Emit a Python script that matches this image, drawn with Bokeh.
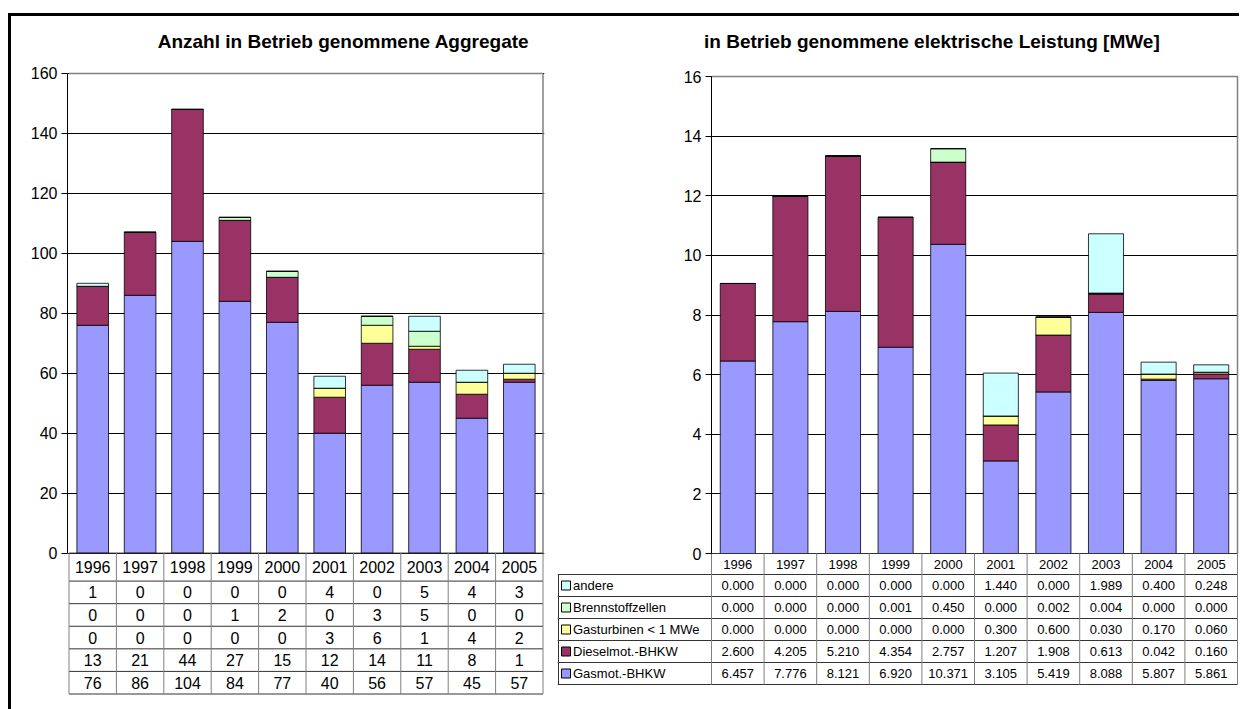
from bokeh.plotting import figure
from bokeh.models import ColumnDataSource, Range1d, FixedTicker, Spacer
from bokeh.layouts import row, column
from bokeh.embed import file_html
from bokeh.resources import INLINE
from bokeh.core.properties import value

FONT = "Liberation Sans"

years = ["1996", "1997", "1998", "1999", "2000", "2001", "2002", "2003", "2004", "2005"]
series = ["Gasmot.-BHKW", "Dieselmot.-BHKW", "Gasturbinen < 1 MWe", "Brennstoffzellen", "andere"]
colors = ["#9999FF", "#993366", "#FFFF99", "#CCFFCC", "#CCFFFF"]

count_gasmot = [76, 86, 104, 84, 77, 40, 56, 57, 45, 57]
count_diesel = [13, 21, 44, 27, 15, 12, 14, 11, 8, 1]
count_gasturb = [0, 0, 0, 0, 0, 3, 6, 1, 4, 2]
count_brenn = [0, 0, 0, 1, 2, 0, 3, 5, 0, 0]
count_andere = [1, 0, 0, 0, 0, 4, 0, 5, 4, 3]

mw_gasmot = [6.457, 7.776, 8.121, 6.920, 10.371, 3.105, 5.419, 8.088, 5.807, 5.861]
mw_diesel = [2.600, 4.205, 5.210, 4.354, 2.757, 1.207, 1.908, 0.613, 0.042, 0.160]
mw_gasturb = [0.000, 0.000, 0.000, 0.000, 0.000, 0.300, 0.600, 0.030, 0.170, 0.060]
mw_brenn = [0.000, 0.000, 0.000, 0.001, 0.450, 0.000, 0.002, 0.004, 0.000, 0.000]
mw_andere = [0.000, 0.000, 0.000, 0.000, 0.000, 1.440, 0.000, 1.989, 0.400, 0.248]

left_ticks = [0, 20, 40, 60, 80, 100, 120, 140, 160]
right_ticks = [0, 2, 4, 6, 8, 10, 12, 14, 16]

title_left = "Anzahl in Betrieb genommene Aggregate"
title_right = "in Betrieb genommene elektrische Leistung  [MWe]"

keys = ["gasmot", "diesel", "gasturb", "brenn", "andere"]


def style_axis(p, ticks, ymax):
    ax = p.yaxis[0]
    ax.ticker = FixedTicker(ticks=ticks)
    ax.bounds = (0, ymax)
    ax.major_label_text_font = FONT
    ax.major_label_text_font_size = "16px"
    ax.major_label_text_color = "black"
    ax.major_tick_out = 6
    ax.major_tick_in = 0
    ax.minor_tick_out = 0
    ax.minor_tick_in = 0
    ax.axis_line_color = "black"
    ax.major_tick_line_color = "black"
    ax.major_label_standoff = 4
    p.ygrid.ticker = FixedTicker(ticks=ticks)
    p.ygrid.grid_line_color = "black"
    p.ygrid.grid_line_width = 1
    p.xgrid.grid_line_color = None


def add_title(p, text, x, y):
    p.text(x=[x], y=[y], text=[text], text_align="center", text_baseline="middle",
           text_font=value(FONT), text_font_size="19px", text_font_style="bold",
           text_color="black")


FIG_TOP = 16          # page y where the figures start
xs = [i + 0.5 for i in range(len(years))]

# ---------------- left panel: counts ----------------
cw1 = 47.4            # px per column
s1 = 3.0              # px per unit
x0_1 = 68.5           # page x of column edge 0
y0_1 = 553.0          # page y of value 0
pad1x = 1.5 / cw1
tbl1_h = [28, 22.6, 22.6, 22.6, 22.6, 22.6]
tbl1_bottom = -sum(tbl1_h) / s1
y1_top = 160 + (73 - FIG_TOP) / s1
p1 = figure(width=546, height=680, output_backend="svg", toolbar_location=None, title=None,
            x_range=Range1d(-pad1x, 10 + pad1x), y_range=Range1d(tbl1_bottom - 1.5 / s1, y1_top),
            x_axis_location=None, y_axis_location="left",
            min_border_left=56, min_border_right=13, min_border_top=0, min_border_bottom=1,
            outline_line_color=None, background_fill_color="white", border_fill_color="white")
style_axis(p1, left_ticks, 160)
add_title(p1, title_left, (343 - x0_1) / cw1, 160 + (73 - 41) / s1)

src1 = ColumnDataSource(dict(x=xs, gasmot=count_gasmot, diesel=count_diesel, gasturb=count_gasturb,
                             brenn=count_brenn, andere=count_andere))
p1.vbar_stack(keys, x="x", width=0.667, source=src1, fill_color=colors,
              line_color="black", line_width=0.8)
p1.segment(x0=[0, 10], y0=[160, 0], x1=[10, 10], y1=[160, 160], line_color="#808080", line_width=1.5)

edges1 = [0]
for h in tbl1_h:
    edges1.append(edges1[-1] - h / s1)
p1.segment(x0=[0] * len(edges1), x1=[10] * len(edges1), y0=edges1, y1=edges1,
           line_color="#333333", line_width=1)
p1.segment(x0=list(range(11)), x1=list(range(11)), y0=[0] * 11, y1=[edges1[-1]] * 11,
           line_color="#808080", line_width=1)
centers1 = [(edges1[i] + edges1[i + 1]) / 2 for i in range(len(edges1) - 1)]
p1.text(x=xs, y=[centers1[0]] * 10, text=years, text_align="center", text_baseline="middle",
        text_font=value(FONT), text_font_size="16px", text_color="black")
rows1 = [count_andere, count_brenn, count_gasturb, count_diesel, count_gasmot]
for r, vals in enumerate(rows1):
    p1.text(x=xs, y=[centers1[r + 1]] * 10, text=[str(v) for v in vals],
            text_align="center", text_baseline="middle",
            text_font=value(FONT), text_font_size="16px", text_color="black")

# ---------------- right panel: MWe ----------------
cw2 = 52.6
legw = 154.0
L = legw / cw2
x0_2 = 557.0 + legw
s2 = (553 - 76) / 16.0
pad2x = 2 / cw2
tbl2_h = [21, 22, 22, 22, 22, 22]
tbl2_bottom = -sum(tbl2_h) / s2
y2_top = 16 + (76 - FIG_TOP) / s2
p2 = figure(width=682, height=670, output_backend="svg", toolbar_location=None, title=None,
            x_range=Range1d(-L, 10 + pad2x), y_range=Range1d(tbl2_bottom - 1.0 / s2, y2_top),
            x_axis_location=None, y_axis_location="left",
            min_border_left=0, min_border_right=0, min_border_top=0, min_border_bottom=1,
            outline_line_color=None, background_fill_color="white", border_fill_color="white")
style_axis(p2, right_ticks, 16)
p2.yaxis.fixed_location = 0
p2.ygrid.cross_bounds = (0, 10)
add_title(p2, title_right, (934 - x0_2) / cw2, 16 + (76 - 41) / s2)

src2 = ColumnDataSource(dict(x=xs, gasmot=mw_gasmot, diesel=mw_diesel, gasturb=mw_gasturb,
                             brenn=mw_brenn, andere=mw_andere))
p2.vbar_stack(keys, x="x", width=0.667, source=src2, fill_color=colors,
              line_color="black", line_width=0.8)
p2.segment(x0=[0, 10], y0=[16, 0], x1=[10, 10], y1=[16, 16], line_color="#808080", line_width=1.5)

edges2 = [0]
for h in tbl2_h:
    edges2.append(edges2[-1] - h / s2)
p2.segment(x0=[0], x1=[10], y0=[0], y1=[0], line_color="#333333", line_width=1)
p2.segment(x0=[-L] * (len(edges2) - 1), x1=[10] * (len(edges2) - 1), y0=edges2[1:], y1=edges2[1:],
           line_color="#333333", line_width=1)
p2.segment(x0=list(range(11)), x1=list(range(11)), y0=[0] * 11, y1=[edges2[-1]] * 11,
           line_color="#808080", line_width=1)
p2.segment(x0=[-L + 1.0 / cw2], x1=[-L + 1.0 / cw2], y0=[edges2[1]], y1=[edges2[-1]],
           line_color="#333333", line_width=1)
centers2 = [(edges2[i] + edges2[i + 1]) / 2 for i in range(len(edges2) - 1)]
p2.text(x=xs, y=[centers2[0]] * 10, text=years, text_align="center", text_baseline="middle",
        text_font=value(FONT), text_font_size="13px", text_color="black")
rows2 = [mw_andere, mw_brenn, mw_gasturb, mw_diesel, mw_gasmot]
labels2 = ["andere", "Brennstoffzellen", "Gasturbinen < 1 MWe", "Dieselmot.-BHKW", "Gasmot.-BHKW"]
colors2 = ["#CCFFFF", "#CCFFCC", "#FFFF99", "#993366", "#9999FF"]
for r, vals in enumerate(rows2):
    p2.text(x=xs, y=[centers2[r + 1]] * 10, text=["%.3f" % v for v in vals],
            text_align="center", text_baseline="middle",
            text_font=value(FONT), text_font_size="13px", text_color="black")
p2.scatter(x=[-L + 8.5 / cw2] * 5, y=centers2[1:], marker="square", size=9,
           fill_color=colors2, line_color="black", line_width=1)
p2.text(x=[-L + 15.5 / cw2] * 5, y=centers2[1:], text=labels2, text_align="left",
        text_baseline="middle", text_font=value(FONT), text_font_size="13px", text_color="black")

# ---------------- page ----------------
top_gap = Spacer(width=1239, height=13)
top_line = row(Spacer(width=8, height=3),
               Spacer(width=1231, height=3, styles={"background-color": "black"}))
body = row(Spacer(width=8, height=693),
           Spacer(width=3, height=693, styles={"background-color": "black"}),
           p1, p2)
layout = column(top_gap, top_line, body)

open("out.html", "w").write(file_html(layout, INLINE))
